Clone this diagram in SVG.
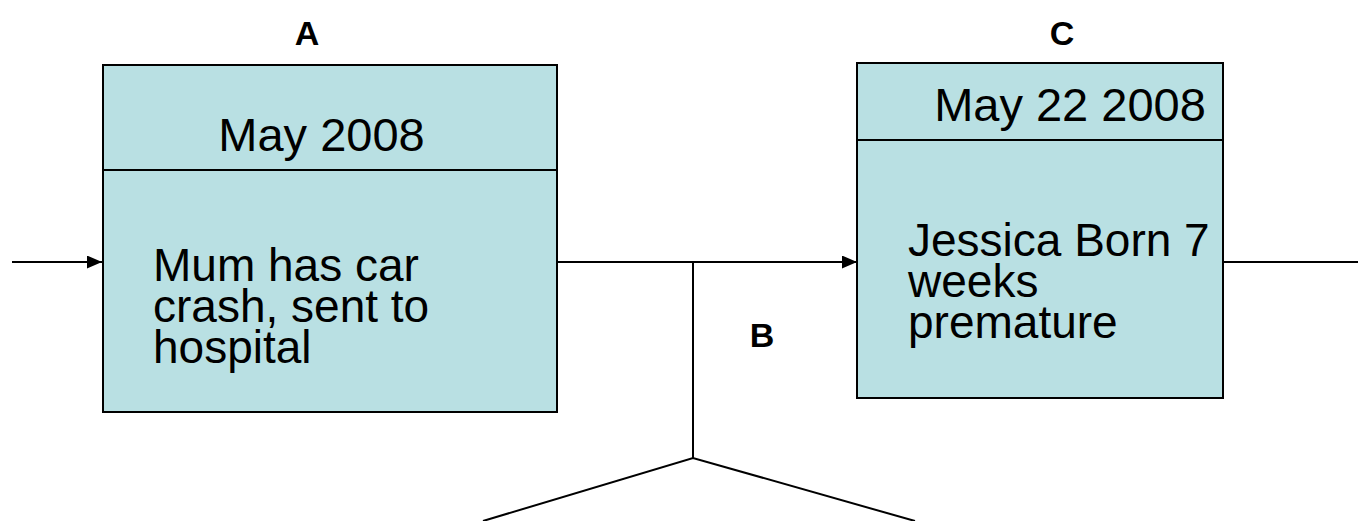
<svg xmlns="http://www.w3.org/2000/svg" width="1371" height="521" viewBox="0 0 1371 521">
<style>
.box{fill:#b9e0e3;stroke:#000;stroke-width:2}
.ln{stroke:#000;stroke-width:2;fill:none}
.t{font-family:"Liberation Sans",Arial,sans-serif;font-size:47px;fill:#000}
.b{font-family:"Liberation Sans",Arial,sans-serif;font-size:46px;fill:#000}
.h{font-family:"Liberation Sans",Arial,sans-serif;font-size:34px;font-weight:bold;fill:#000}
</style>
<defs>
<marker id="arr" markerWidth="15" markerHeight="13" refX="15" refY="6.5" orient="auto" markerUnits="userSpaceOnUse">
<path d="M0,0 L15,6.5 L0,13 Z" fill="#000"/>
</marker>
</defs>
<rect width="1371" height="521" fill="#fff"/>
<g id="connectors">
<line class="ln" x1="12" y1="262" x2="102" y2="262" marker-end="url(#arr)"/>
<line class="ln" x1="557" y1="262" x2="857" y2="262" marker-end="url(#arr)"/>
<line class="ln" x1="1223" y1="262" x2="1358" y2="262"/>
<polyline class="ln" points="693,262 693,458"/>
<polyline class="ln" points="483,521 693,458 915,521"/>
</g>
<g id="nodeA">
<rect class="box" x="103" y="65" width="454" height="347"/>
<line class="ln" x1="103" y1="170" x2="557" y2="170"/>
<text class="t" x="321.5" y="151" text-anchor="middle">May 2008</text>
<text class="b" x="153" y="281">Mum has car</text>
<text class="b" x="153" y="322">crash, sent to</text>
<text class="b" x="153" y="363">hospital</text>
</g>
<g id="nodeC">
<rect class="box" x="857" y="63" width="366" height="335"/>
<line class="ln" x1="857" y1="140" x2="1223" y2="140"/>
<text class="t" x="1070" y="121" text-anchor="middle">May 22 2008</text>
<text class="b" x="908" y="256">Jessica Born 7</text>
<text class="b" x="908" y="297">weeks</text>
<text class="b" x="908" y="338">premature</text>
</g>
<g id="labels">
<text class="h" x="307" y="45" text-anchor="middle">A</text>
<text class="h" x="1062" y="45" text-anchor="middle">C</text>
<text class="h" x="762" y="347" text-anchor="middle">B</text>
</g>
</svg>
